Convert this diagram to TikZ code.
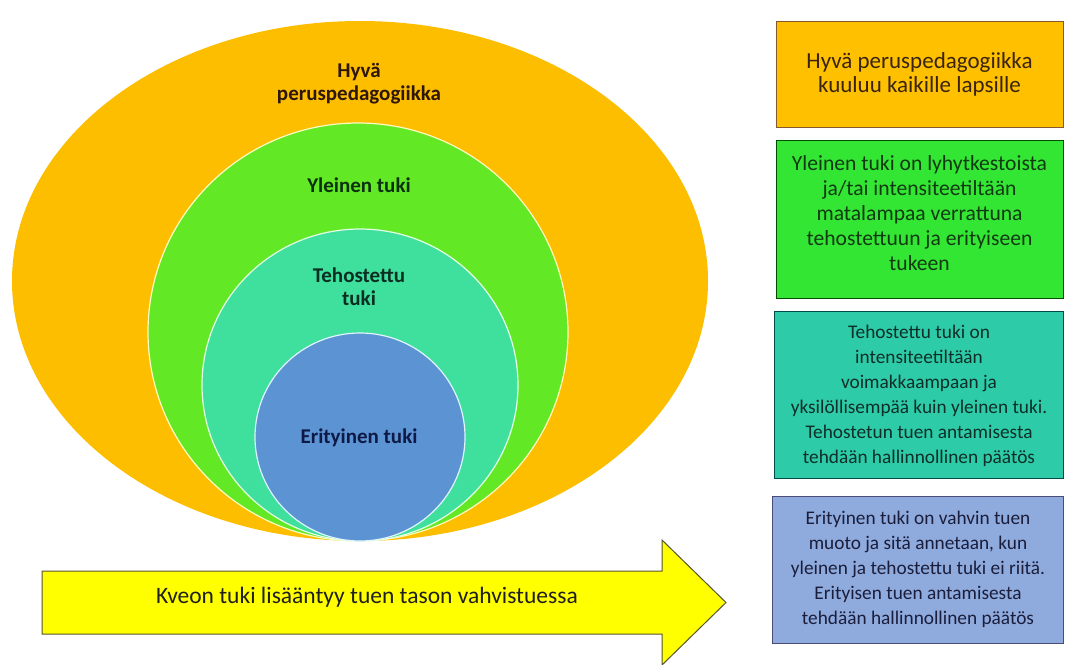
\documentclass[tikz,border=0pt]{standalone}
\usepackage{fontspec}
\setmainfont{Carlito}
\usetikzlibrary{shapes.geometric}
\definecolor{orA}{HTML}{FDBE00}
\definecolor{grA}{HTML}{62E825}
\definecolor{tqA}{HTML}{3FDF9D}
\definecolor{blA}{HTML}{5B93D3}
\definecolor{boxO}{HTML}{FFC000}
\definecolor{boxG}{HTML}{33E633}
\definecolor{boxT}{HTML}{2ECBA8}
\definecolor{boxB}{HTML}{8FAADC}
\definecolor{arY}{HTML}{FFFF00}
\definecolor{txO}{HTML}{2E1608}
\definecolor{txG}{HTML}{0B3010}
\definecolor{txT}{HTML}{0A2E22}
\definecolor{txB}{HTML}{0E1A45}
\definecolor{txO2}{HTML}{3A2410}
\definecolor{txG2}{HTML}{113A13}
\definecolor{txT2}{HTML}{0E2E28}
\definecolor{txB2}{HTML}{1A1E3C}
\tikzset{
  circ/.style={ellipse, inner sep=0pt, line width=1.2pt},
  clabel/.style={font=\bfseries\fontsize{21}{23}\selectfont, align=center, inner sep=0pt},
  infobox/.style={rectangle, inner sep=0pt, line width=1pt},
  infotext/.style={align=center, inner sep=0pt},
}
\begin{document}
\begin{tikzpicture}[x=1pt,y=-1pt]
\useasboundingbox[fill=white] (0,0) rectangle (1065,664);
% nested circles
\node[circ, fill=orA, minimum width=696pt, minimum height=520pt] (hyva) at (360,281) {};
\node[circ, fill=grA, draw=yellow!25!white, minimum width=420pt, minimum height=418pt] (yleinen) at (358,332) {};
\node[circ, fill=tqA, draw=green!10!white, minimum width=316pt, minimum height=312pt] (tehos) at (360,385) {};
\node[circ, fill=blA, draw=cyan!12!white, minimum width=210pt, minimum height=208pt] (erit) at (360,437) {};
% circle labels
\node[clabel, text=txO] (lhyva) at (359,84) {Hyvä\\peruspedagogiikka};
\node[clabel, text=txG] (lyle) at (359,185) {Yleinen tuki};
\node[clabel, text=txT] (lteh) at (359,287) {Tehostettu\\tuki};
\node[clabel, text=txB] (lerit) at (359,438) {Erityinen tuki};
% right boxes
\node[infobox, fill=boxO, draw=brown!70!black, minimum width=287pt, minimum height=106pt] (b1) at (919.5,74) {};
\node[infobox, fill=boxG, draw=green!30!black, minimum width=287pt, minimum height=158pt] (b2) at (919.5,219) {};
\node[infobox, fill=boxT, draw=teal!60!black, minimum width=289pt, minimum height=167pt] (b3) at (918.5,394.5) {};
\node[infobox, fill=boxB, draw=blue!25!black!70, minimum width=291pt, minimum height=147pt] (b4) at (917.5,569.5) {};
\node[infotext, font=\fontsize{23}{24}\selectfont, text=txO2] (t1) at (b1.center) {Hyvä peruspedagogiikka\\kuuluu kaikille lapsille};
\node[infotext, font=\fontsize{21.6}{25}\selectfont, text=txG2] (t2) at (919.5,213) {Yleinen tuki on lyhytkestoista\\ja/tai intensiteetiltään\\matalampaa verrattuna\\tehostettuun ja erityiseen\\tukeen};
\node[infotext, font=\fontsize{19.3}{25}\selectfont, text=txT2] (t3) at (919,396) {Tehostettu tuki on\\intensiteetiltään\\voimakkaampaan ja\\yksilöllisempää kuin yleinen tuki.\\Tehostetun tuen antamisesta\\tehdään hallinnollinen päätös};
\node[infotext, font=\fontsize{19.3}{25}\selectfont, text=txB2] (t4) at (918,569) {Erityinen tuki on vahvin tuen\\muoto ja sitä annetaan, kun\\yleinen ja tehostettu tuki ei riitä.\\Erityisen tuen antamisesta\\tehdään hallinnollinen päätös};
% arrow
\draw[fill=arY, draw=olive!50!black, line width=1pt, line join=miter]
  (42,571) -- (662,571) -- (662,540) -- (726,602.5) -- (662,665) -- (662,634) -- (42,634) -- cycle;
\node[inner sep=0pt, font=\fontsize{23.5}{26}\selectfont, text=black!88] (arlabel) at (367,597) {Kveon tuki lisääntyy tuen tason vahvistuessa};
\end{tikzpicture}
\end{document}
